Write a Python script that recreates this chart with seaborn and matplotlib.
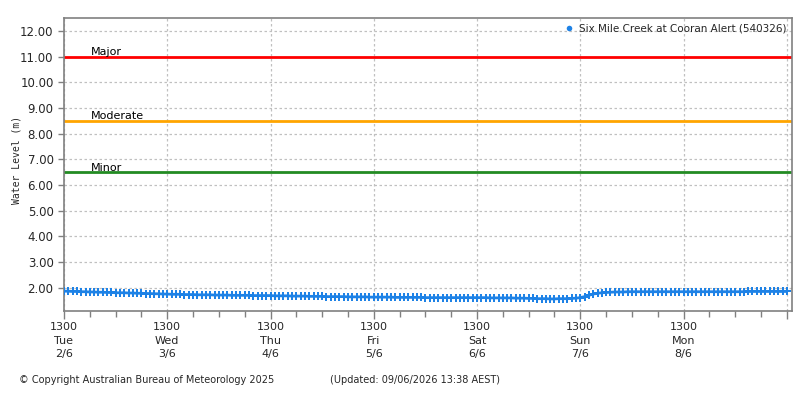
import matplotlib
matplotlib.use("Agg")
import matplotlib.pyplot as plt
import matplotlib.dates as mdates
import matplotlib.ticker as mticker
import seaborn as sns
import pandas as pd

# --- data (hourly readings, 2/6 13:00 -> 9/6 13:00) ---
station = "Six Mile Creek at Cooran Alert (540326)"
start_time = "2025-06-02 13:00"
levels = [
    # Tue 13:00 - Wed 12:00
    1.87, 1.87, 1.86, 1.86, 1.85, 1.85, 1.84, 1.84, 1.83, 1.83, 1.82, 1.82,
    1.81, 1.81, 1.81, 1.80, 1.80, 1.79, 1.79, 1.78, 1.78, 1.77, 1.77, 1.76,
    # Wed 13:00 - Thu 12:00
    1.76, 1.75, 1.75, 1.75, 1.74, 1.74, 1.74, 1.73, 1.73, 1.73, 1.73, 1.72,
    1.72, 1.72, 1.72, 1.71, 1.71, 1.71, 1.71, 1.71, 1.70, 1.70, 1.70, 1.70,
    # Thu 13:00 - Fri 12:00
    1.70, 1.69, 1.69, 1.69, 1.69, 1.68, 1.68, 1.68, 1.68, 1.67, 1.67, 1.67,
    1.67, 1.66, 1.66, 1.66, 1.66, 1.66, 1.65, 1.65, 1.65, 1.65, 1.65, 1.64,
    # Fri 13:00 - Sat 12:00
    1.64, 1.64, 1.64, 1.64, 1.64, 1.63, 1.63, 1.63, 1.63, 1.63, 1.63, 1.63,
    1.62, 1.62, 1.62, 1.62, 1.62, 1.62, 1.62, 1.62, 1.62, 1.62, 1.62, 1.62,
    # Sat 13:00 - Sun 12:00
    1.62, 1.62, 1.62, 1.61, 1.61, 1.61, 1.61, 1.61, 1.61, 1.60, 1.60, 1.60,
    1.59, 1.59, 1.58, 1.58, 1.58, 1.57, 1.57, 1.58, 1.58, 1.58, 1.59, 1.60,
    # Sun 13:00 - Mon 12:00
    1.62, 1.66, 1.71, 1.76, 1.79, 1.81, 1.82, 1.83, 1.84, 1.84, 1.84, 1.85,
    1.85, 1.85, 1.85, 1.85, 1.85, 1.85, 1.85, 1.85, 1.85, 1.85, 1.85, 1.85,
    # Mon 13:00 - Tue 12:00
    1.85, 1.85, 1.85, 1.85, 1.85, 1.85, 1.85, 1.85, 1.85, 1.85, 1.85, 1.85,
    1.85, 1.85, 1.85, 1.86, 1.86, 1.86, 1.86, 1.86, 1.86, 1.86, 1.86, 1.86,
    # Tue 13:00
    1.86,
]

flood_names = ["Major", "Moderate", "Minor"]
flood_levels = [11.0, 8.5, 6.5]
flood_colors = ["#ff0000", "#ffa500", "#228b22"]

tick_days = ["Tue\n2/6", "Wed\n3/6", "Thu\n4/6", "Fri\n5/6", "Sat\n6/6", "Sun\n7/6", "Mon\n8/6", ""]

df = pd.DataFrame({
    "time": pd.date_range(start_time, periods=len(levels), freq="h"),
    "level": levels,
})

sns.set_style("white")
plt.rcParams["font.family"] = ["DejaVu Sans"]

fig = plt.figure(figsize=(8, 4), dpi=100)
ax = fig.add_axes([0.08, 0.2225, 0.91, 0.7325])

# flood classification lines
for name, lvl, col in zip(flood_names, flood_levels, flood_colors):
    ax.axhline(lvl, color=col, lw=2, zorder=2)
    ax.text(0.037, lvl - 0.02, name, transform=ax.get_yaxis_transform(),
            fontsize=8, va="bottom", ha="left", color="black", zorder=3)

sns.lineplot(data=df, x="time", y="level", ax=ax, color="#1e82e6", lw=2,
             marker="P", markersize=6, markeredgewidth=0, label=station, zorder=4)

# axes limits and ticks
t0 = df["time"].iloc[0]
ax.set_xlim(t0, t0 + pd.Timedelta(hours=169.2))
ax.set_ylim(1.1, 12.5)

major = [t0 + pd.Timedelta(days=i) for i in range(len(tick_days))]
ax.set_xticks(major)
ax.set_xticklabels(["1300\n" + d if d else "" for d in tick_days], fontsize=8, linespacing=1.45)
ax.xaxis.set_minor_locator(mdates.HourLocator(byhour=[1, 7, 19]))
ax.yaxis.set_major_locator(mticker.MultipleLocator(1.0))
ax.yaxis.set_major_formatter(mticker.FormatStrFormatter("%.2f"))
ax.tick_params(axis="y", labelsize=8.5, length=4, width=1, color="#808080", direction="out")
ax.tick_params(axis="x", which="major", length=6, width=1, color="#808080", direction="out", pad=2)
ax.tick_params(axis="x", which="minor", length=4, width=1, color="#808080", direction="out")
ax.yaxis.set_tick_params(which="major", left=True)
ax.xaxis.set_tick_params(which="both", bottom=True)

ax.grid(True, which="major", color="#c0c0c0", linestyle=(0, (2, 2)), lw=0.9)
ax.set_axisbelow(True)
for s in ax.spines.values():
    s.set_color("#808080")
    s.set_linewidth(1.2)

ax.set_xlabel("")
ax.set_ylabel("")
fig.text(0.021, 0.6, "Water Level (m)", rotation=90, fontsize=7,
         family="DejaVu Sans Mono", ha="center", va="center")

leg = ax.legend(loc="upper right", frameon=False, fontsize=7.5, handlelength=0.8,
                handletextpad=0.5, borderaxespad=0.15)
for h in leg.legend_handles:
    h.set_marker("o")
    h.set_linestyle("")
    h.set_markersize(4)

fig.text(0.024, 0.05, "© Copyright Australian Bureau of Meteorology 2025", fontsize=7, va="center")
fig.text(0.412, 0.05, "(Updated: 09/06/2026 13:38 AEST)", fontsize=7, va="center")

fig.savefig("out.png", dpi=100)
